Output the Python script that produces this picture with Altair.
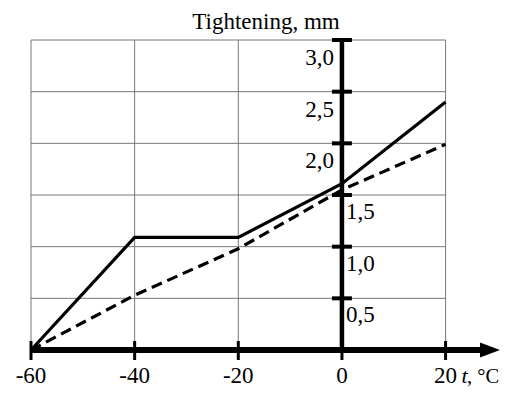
import altair as alt
import pandas as pd

# ---- data ----
temps = [-60, -40, -20, 0, 20]
temp_labels = ["-60", "-40", "-20", "0", "20"]
solid_vals = [0.0, 1.09, 1.09, 1.61, 2.40]
dashed_vals = [0.0, 0.53, 0.98, 1.55, 1.99]
y_ticks = [0.5, 1.0, 1.5, 2.0, 2.5, 3.0]
y_tick_labels = ["0,5", "1,0", "1,5", "2,0", "2,5", "3,0"]
grid_x = [-60, -40, -20, 20]
x_domain = [-60, 30.5]
y_domain = [0, 3.0]
title_text = "Tightening, mm"
x_unit_var = "t"
x_unit_rest = ", \u00b0C"

FONT = "Liberation Serif"
FS = 23
xs = alt.Scale(domain=x_domain, nice=False, zero=False)
ys = alt.Scale(domain=y_domain, nice=False, zero=False)

lines_df = pd.DataFrame({
    "t": temps * 2,
    "v": solid_vals + dashed_vals,
    "s": ["solid"] * len(temps) + ["dashed"] * len(temps),
})
ytick_df = pd.DataFrame({"v": y_ticks, "lab": y_tick_labels})
xtick_df = pd.DataFrame({"t": temps, "lab": temp_labels})
hgrid_df = pd.DataFrame({"v": y_ticks, "x0": [x_domain[0]] * len(y_ticks), "x1": [temps[-1]] * len(y_ticks)})
vgrid_df = pd.DataFrame({"t": grid_x, "y0": [0] * len(grid_x), "y1": [y_domain[1]] * len(grid_x)})
xaxis_df = pd.DataFrame({"x0": [x_domain[0]], "x1": [x_domain[1]], "v": [0]})
yaxis_df = pd.DataFrame({"t": [0], "y0": [0], "y1": [y_domain[1]]})
unit_df = pd.DataFrame({"t": [temps[-1]], "v": [0]})
title_df = pd.DataFrame({"lab": [title_text]})

X = lambda f: alt.X(f, scale=xs, axis=None)
Y = lambda f: alt.Y(f, scale=ys, axis=None)

hgrid = alt.Chart(hgrid_df).mark_rule(color="#777777", strokeWidth=1).encode(
    x=X("x0:Q"), x2="x1:Q", y=Y("v:Q"))
vgrid = alt.Chart(vgrid_df).mark_rule(color="#777777", strokeWidth=1).encode(
    x=X("t:Q"), y=Y("y0:Q"), y2="y1:Q")

solid = alt.Chart(lines_df).transform_filter(alt.datum.s == "solid").mark_line(
    color="black", strokeWidth=3.2).encode(x=X("t:Q"), y=Y("v:Q"))
dashed = alt.Chart(lines_df).transform_filter(alt.datum.s == "dashed").mark_line(
    color="black", strokeWidth=3.2, strokeDash=[11, 6]).encode(x=X("t:Q"), y=Y("v:Q"))

xaxis = alt.Chart(xaxis_df).mark_rule(color="black", strokeWidth=6, x2Offset=-16).encode(
    x=X("x0:Q"), x2="x1:Q", y=Y("v:Q"))
arrow = alt.Chart(xaxis_df).mark_point(
    shape="M0,0L-2,-0.75L-2,0.75Z", size=400, filled=True, color="black", opacity=1
).encode(x=X("x1:Q"), y=Y("v:Q"))
xticks = alt.Chart(xtick_df).mark_rule(color="black", strokeWidth=3, yOffset=-9, y2Offset=10).encode(
    x=X("t:Q"), y=alt.Y("z:Q", scale=ys, axis=None), y2="z:Q").transform_calculate(z="0")

yaxis = alt.Chart(yaxis_df).mark_rule(color="black", strokeWidth=4.5).encode(
    x=X("t:Q"), y=Y("y0:Q"), y2="y1:Q")
yticks = alt.Chart(ytick_df).transform_calculate(z="0").mark_rule(
    color="black", strokeWidth=4, xOffset=-10, x2Offset=10).encode(
    x=X("z:Q"), x2="z:Q", y=Y("v:Q"))

xlabels = alt.Chart(xtick_df).transform_calculate(z="0").mark_text(
    font=FONT, fontSize=FS, dy=33, baseline="alphabetic", align="center", color="black").encode(
    x=X("t:Q"), y=Y("z:Q"), text="lab:N")

ylab_left = alt.Chart(ytick_df).transform_filter(alt.datum.v >= 2).transform_calculate(z="0").mark_text(
    font=FONT, fontSize=FS, dy=25, dx=-8, baseline="alphabetic", align="right", color="black").encode(
    x=X("z:Q"), y=Y("v:Q"), text="lab:N")
ylab_right = alt.Chart(ytick_df).transform_filter(alt.datum.v < 2).transform_calculate(z="0").mark_text(
    font=FONT, fontSize=FS, dy=24, dx=4, baseline="alphabetic", align="left", color="black").encode(
    x=X("z:Q"), y=Y("v:Q"), text="lab:N")

unit_t = alt.Chart(unit_df).transform_calculate(lab=f"'{x_unit_var}'").mark_text(
    font=FONT, fontSize=22, fontStyle="italic", dy=33, dx=16, baseline="alphabetic", align="left",
    color="black").encode(x=X("t:Q"), y=Y("v:Q"), text="lab:N")
unit_rest = alt.Chart(unit_df).transform_calculate(lab=f"'{x_unit_rest}'").mark_text(
    font=FONT, fontSize=20.5, dy=33, dx=21.5, baseline="alphabetic", align="left",
    color="black").encode(x=X("t:Q"), y=Y("v:Q"), text="lab:N")

title = alt.Chart(title_df).mark_text(
    font=FONT, fontSize=23, baseline="alphabetic", align="center", color="black").encode(
    x=alt.value(235), y=alt.value(-11), text="lab:N")

chart = alt.layer(
    hgrid, vgrid, solid, dashed, xaxis, arrow, xticks, yaxis, yticks,
    xlabels, ylab_left, ylab_right, unit_t, unit_rest, title
).properties(
    width=469, height=310,
    autosize=alt.AutoSizeParams(type="none"),
    padding={"left": 23, "top": 32, "right": 0, "bottom": 38},
).configure_view(stroke=None)

chart.save("out.html", embed_options={"renderer": "svg", "actions": False})
